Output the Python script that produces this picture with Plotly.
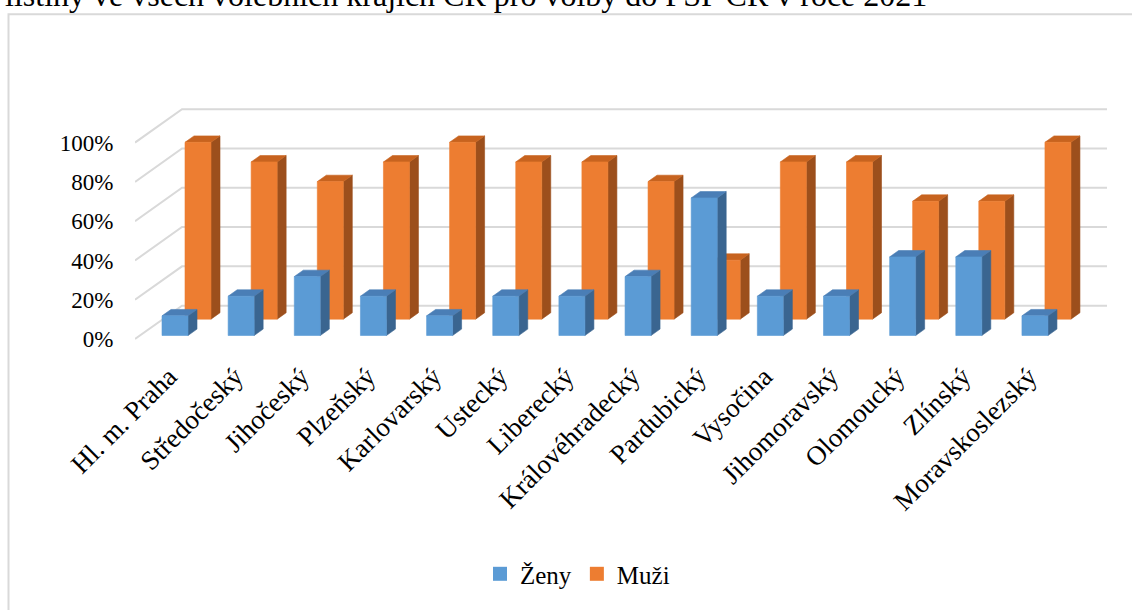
import plotly.graph_objects as go

# ---------------- data ----------------
kraje = ["Hl. m. Praha", "Středočeský", "Jihočeský", "Plzeňský", "Karlovarský",
         "Ustecký", "Liberecký", "Královéhradecký", "Pardubický", "Vysočina",
         "Jihomoravský", "Olomoucký", "Zlínský", "Moravskoslezský"]
zeny = [10, 20, 30, 20, 10, 20, 20, 30, 70, 20, 20, 40, 40, 10]
muzi = [90, 80, 70, 80, 90, 80, 80, 70, 30, 80, 80, 60, 60, 90]
tick_vals = [0, 20, 40, 60, 80, 100]
tick_text = [f"{v}%" for v in tick_vals]
series_names = ["Ženy", "Muži"]

# ---------------- geometry (pseudo-3D oblique projection) ----------------
W, H = 1132, 610
PL, PR, PT, PB = 135, 1108, 108, 346      # plot area in px
SX = 66.15                                 # px per category
SY = 1.99                                  # px per percent
X0PX = 170                                 # px of category 0 at depth 0
Y0PX = 342                                 # px of 0% at depth 0
K = 0.72                                   # vertical rise per px depth

x_min = (PL - X0PX) / SX
x_max = (PR - X0PX) / SX
y_min = (Y0PX - PB) / SY
y_max = (Y0PX - PT) / SY

def dxu(d):
    return d / SX

def dyu(d):
    return d * K / SY

WALL_D = 47
BAR_W = 26 / SX
BAR_DEPTH = 9
LABEL_SHIFT = -1 / SX

COL = {
    "Ženy": dict(front="#5B9BD5", top="#4A7EB6", side="#3A6590", d=5),
    "Muži": dict(front="#ED7D31", top="#C7631F", side="#9C4F1C", d=28),
}

FONT = "Liberation Serif"
fig = go.Figure()

# back wall gridlines + side-wall diagonals
gx, gy = [], []
for v in tick_vals:
    gx += [x_min, x_min + dxu(WALL_D), (1107 - X0PX) / SX, None]
    gy += [v, v + dyu(WALL_D), v + dyu(WALL_D), None]
fig.add_trace(go.Scatter(x=gx, y=gy, mode="lines",
                         line=dict(color="#D9D9D9", width=2),
                         hoverinfo="skip", showlegend=False))

def boxes(vals, d_front):
    fx, fy, tx, ty, sx, sy = [], [], [], [], [], []
    ddx, ddy = dxu(BAR_DEPTH), dyu(BAR_DEPTH)
    for i, v in enumerate(vals):
        xl = i + dxu(d_front) - BAR_W / 2
        xr = xl + BAR_W
        y0 = dyu(d_front)
        y1 = y0 + v
        fx += [xl, xr, xr, xl, xl, None]
        fy += [y0, y0, y1, y1, y0, None]
        tx += [xl, xr, xr + ddx, xl + ddx, xl, None]
        ty += [y1, y1, y1 + ddy, y1 + ddy, y1, None]
        sx += [xr, xr + ddx, xr + ddx, xr, xr, None]
        sy += [y0, y0 + ddy, y1 + ddy, y1, y0, None]
    return (fx, fy), (tx, ty), (sx, sy)

for name, vals in [("Muži", muzi), ("Ženy", zeny)]:
    c = COL[name]
    front, top, side = boxes(vals, c["d"])
    for (xx, yy), col in [(side, c["side"]), (top, c["top"]), (front, c["front"])]:
        fig.add_trace(go.Scatter(x=xx, y=yy, mode="lines", fill="toself",
                                 fillcolor=col, line=dict(color=col, width=0.6),
                                 hoverinfo="skip", showlegend=False))

# legend entries
for name in series_names:
    fig.add_trace(go.Scatter(x=[None], y=[None], mode="markers", name=name,
                             marker=dict(symbol="square", size=14,
                                         color=COL[name]["front"])))

def xp(px):
    return (px - PL) / (PR - PL)

def yp(py):
    return (PB - py) / (PB - PT)

fig.update_layout(
    width=W, height=H,
    margin=dict(l=PL, r=W - PR, t=PT, b=H - PB),
    paper_bgcolor="white", plot_bgcolor="white",
    font=dict(family=FONT, size=23, color="black"),
    showlegend=True,
    legend=dict(orientation="h", x=xp(480), xanchor="left", y=yp(580),
                yanchor="middle", font=dict(family=FONT, size=25, color="black"),
                bgcolor="rgba(0,0,0,0)", itemwidth=30),
    xaxis=dict(range=[x_min, x_max], tickmode="array",
               tickvals=[i + LABEL_SHIFT for i in range(len(kraje))], ticktext=kraje,
               tickangle=-45, showgrid=False, zeroline=False, showline=False,
               ticks="outside", ticklen=6, tickcolor="rgba(0,0,0,0)",
               tickfont=dict(family=FONT, size=27, color="black")),
    yaxis=dict(range=[y_min, y_max], tickmode="array", tickvals=tick_vals,
               ticktext=tick_text, showgrid=False, zeroline=False, showline=False,
               ticks="outside", ticklen=16, tickcolor="rgba(0,0,0,0)",
               tickfont=dict(family=FONT, size=23, color="black")),
    shapes=[dict(type="rect", xref="paper", yref="paper",
                 x0=xp(8.5), x1=xp(1200), y0=yp(13), y1=yp(700),
                 line=dict(color="#D9D9D9", width=2), fillcolor="rgba(0,0,0,0)",
                 layer="below")],
    annotations=[dict(text="listiny ve všech volebních krajích ČR pro volby do PSP ČR v roce 2021",
                      xref="paper", yref="paper", x=xp(3), y=yp(-6),
                      xanchor="left", yanchor="middle", showarrow=False,
                      font=dict(family=FONT, size=32, color="black"))],
)

fig.write_html("out.html", config={"displayModeBar": False},
               post_script="document.body.style.margin='0';")
